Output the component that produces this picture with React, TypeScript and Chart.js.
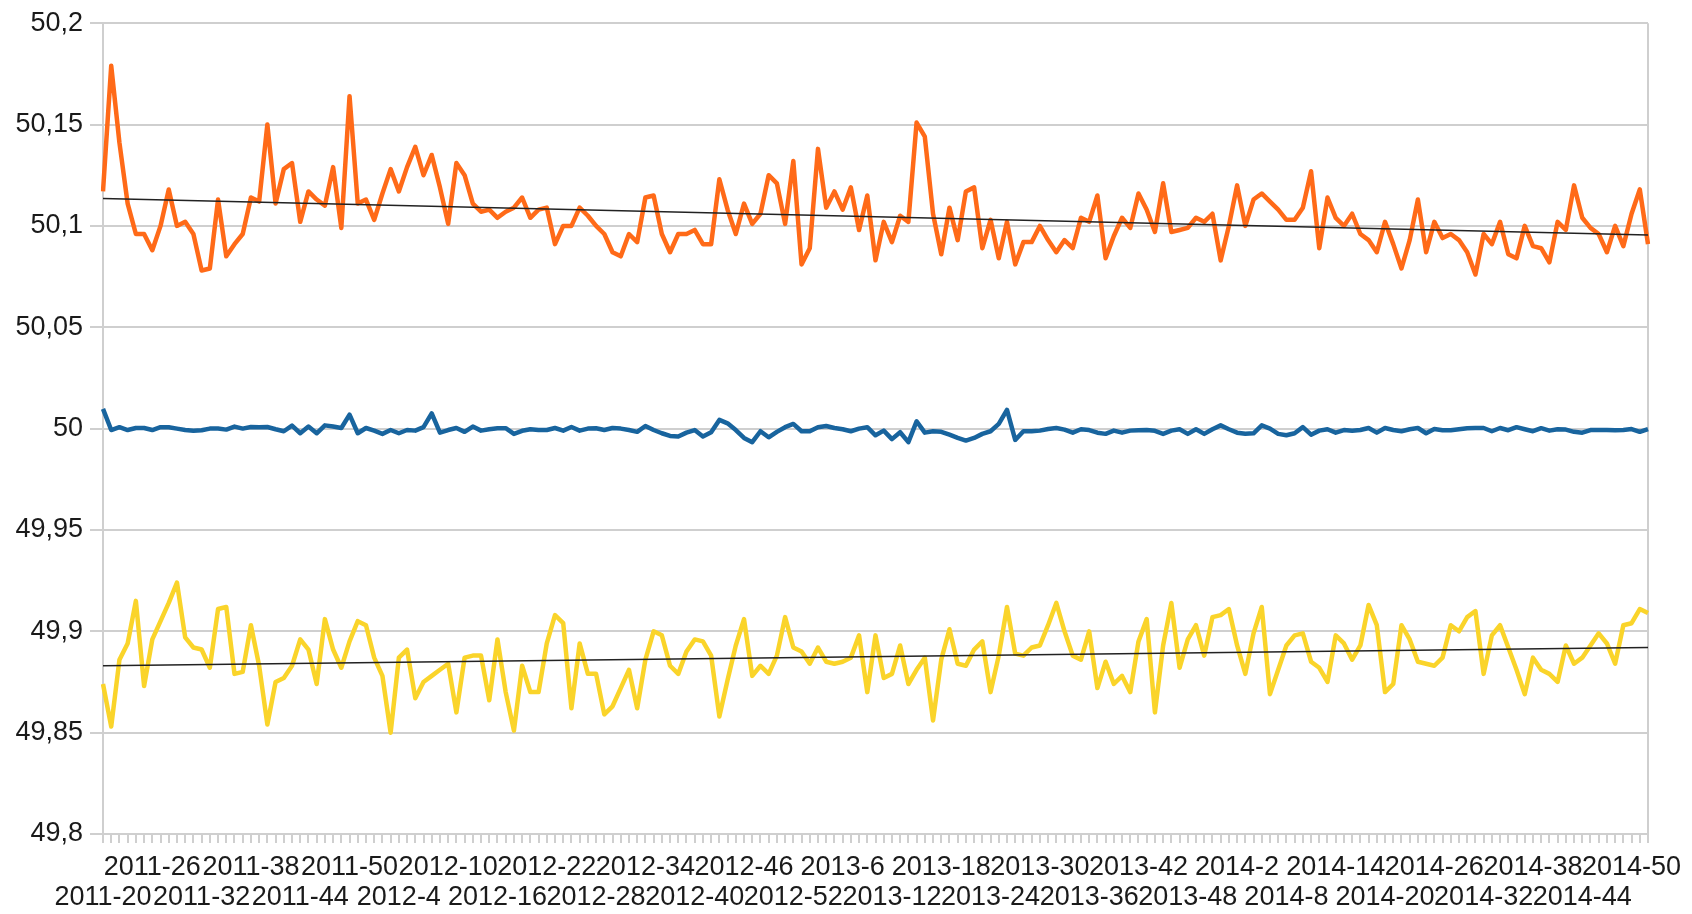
import React, { useEffect, useRef } from 'react';
import { Chart, registerables } from 'chart.js';

Chart.register(...registerables);

// Categories: ISO weeks from 2011-20 to 2014-52
const firstYear = 2011;
const firstWeek = 20;
const lastYear = 2014;
const weeksPerYear = 52;
const categories: string[] = [];
for (let y = firstYear; y <= lastYear; y++) {
  for (let w = y === firstYear ? firstWeek : 1; w <= weeksPerYear; w++) {
    categories.push(`${y}-${w}`);
  }
}

const orangeSeries = [
  50.117, 50.179, 50.141, 50.111, 50.096, 50.096, 50.088, 50.100, 50.118, 50.100,
  50.102, 50.096, 50.078, 50.079, 50.113, 50.085, 50.091, 50.096, 50.114, 50.112,
  50.150, 50.111, 50.128, 50.131, 50.102, 50.117, 50.113, 50.110, 50.129, 50.099,
  50.164, 50.111, 50.113, 50.103, 50.116, 50.128, 50.117, 50.129, 50.139, 50.125,
  50.135, 50.119, 50.101, 50.131, 50.125, 50.111, 50.107, 50.108, 50.104, 50.107,
  50.109, 50.114, 50.104, 50.108, 50.109, 50.091, 50.100, 50.100, 50.109, 50.105,
  50.100, 50.096, 50.087, 50.085, 50.096, 50.092, 50.114, 50.115, 50.096, 50.087,
  50.096, 50.096, 50.098, 50.091, 50.091, 50.123, 50.108, 50.096, 50.111, 50.101,
  50.106, 50.125, 50.121, 50.101, 50.132, 50.081, 50.089, 50.138, 50.109, 50.117,
  50.108, 50.119, 50.098, 50.115, 50.083, 50.102, 50.092, 50.105, 50.102, 50.151,
  50.144, 50.106, 50.086, 50.109, 50.093, 50.117, 50.119, 50.089, 50.103, 50.084,
  50.102, 50.081, 50.092, 50.092, 50.100, 50.093, 50.087, 50.093, 50.089, 50.104,
  50.102, 50.115, 50.084, 50.095, 50.104, 50.099, 50.116, 50.108, 50.097, 50.121,
  50.097, 50.098, 50.099, 50.104, 50.102, 50.106, 50.083, 50.100, 50.120, 50.100,
  50.113, 50.116, 50.112, 50.108, 50.103, 50.103, 50.109, 50.127, 50.089, 50.114,
  50.104, 50.100, 50.106, 50.096, 50.093, 50.087, 50.102, 50.091, 50.079, 50.093,
  50.113, 50.087, 50.102, 50.094, 50.096, 50.093, 50.087, 50.076, 50.096, 50.091,
  50.102, 50.086, 50.084, 50.100, 50.090, 50.089, 50.082, 50.102, 50.098, 50.120,
  50.104, 50.099, 50.096, 50.087, 50.100, 50.090, 50.106, 50.118, 50.091,
];

const blueSeries = [
  50.0097, 49.9993, 50.0007, 49.9993, 50.0003, 50.0003, 49.9993, 50.0007, 50.0007, 50.0000,
  49.9993, 49.9989, 49.9992, 50.0000, 50.0000, 49.9995, 50.0010, 50.0000, 50.0008, 50.0007,
  50.0008, 49.9997, 49.9987, 50.0015, 49.9977, 50.0010, 49.9977, 50.0016, 50.0010, 50.0003,
  50.0069, 49.9977, 50.0003, 49.9990, 49.9974, 49.9993, 49.9977, 49.9993, 49.9990, 50.0007,
  50.0075, 49.9980, 49.9993, 50.0003, 49.9984, 50.0010, 49.9990, 49.9997, 50.0002, 50.0002,
  49.9974, 49.9989, 49.9997, 49.9993, 49.9993, 50.0003, 49.9990, 50.0008, 49.9990, 50.0000,
  50.0002, 49.9993, 50.0003, 50.0000, 49.9993, 49.9984, 50.0013, 49.9993, 49.9977, 49.9964,
  49.9961, 49.9980, 49.9993, 49.9961, 49.9982, 50.0043, 50.0026, 49.9993, 49.9954, 49.9933,
  49.9987, 49.9957, 49.9984, 50.0007, 50.0023, 49.9987, 49.9987, 50.0007, 50.0013, 50.0003,
  49.9997, 49.9987, 50.0000, 50.0007, 49.9967, 49.9990, 49.9948, 49.9982, 49.9933, 50.0036,
  49.9980, 49.9987, 49.9984, 49.9970, 49.9954, 49.9941, 49.9954, 49.9974, 49.9987, 50.0023,
  50.0092, 49.9944, 49.9987, 49.9987, 49.9990, 49.9998, 50.0003, 49.9995, 49.9980, 49.9997,
  49.9993, 49.9980, 49.9974, 49.9990, 49.9980, 49.9990, 49.9992, 49.9993, 49.9989, 49.9974,
  49.9990, 49.9997, 49.9974, 49.9997, 49.9974, 49.9997, 50.0016, 49.9997, 49.9980, 49.9975,
  49.9977, 50.0016, 50.0000, 49.9974, 49.9967, 49.9977, 50.0007, 49.9970, 49.9990, 49.9997,
  49.9980, 49.9993, 49.9989, 49.9993, 50.0003, 49.9980, 50.0003, 49.9993, 49.9987, 49.9997,
  50.0003, 49.9977, 49.9998, 49.9992, 49.9992, 49.9997, 50.0002, 50.0003, 50.0003, 49.9987,
  50.0003, 49.9992, 50.0007, 49.9997, 49.9987, 50.0002, 49.9990, 49.9997, 49.9995, 49.9984,
  49.9980, 49.9993, 49.9993, 49.9993, 49.9992, 49.9993, 49.9998, 49.9984, 49.9998,
];

const yellowSeries = [
  49.874, 49.853, 49.886, 49.894, 49.915, 49.873, 49.896, 49.905, 49.914, 49.924,
  49.897, 49.892, 49.891, 49.882, 49.911, 49.912, 49.879, 49.880, 49.903, 49.883,
  49.854, 49.875, 49.877, 49.883, 49.896, 49.891, 49.874, 49.906, 49.891, 49.882,
  49.895, 49.905, 49.903, 49.887, 49.878, 49.850, 49.887, 49.891, 49.867, 49.875,
  49.878, 49.881, 49.884, 49.860, 49.887, 49.888, 49.888, 49.866, 49.896, 49.870,
  49.851, 49.883, 49.870, 49.870, 49.894, 49.908, 49.904, 49.862, 49.894, 49.879,
  49.879, 49.859, 49.863, 49.872, 49.881, 49.862, 49.886, 49.900, 49.898, 49.883,
  49.879, 49.890, 49.896, 49.895, 49.888, 49.858, 49.876, 49.893, 49.906, 49.878,
  49.883, 49.879, 49.888, 49.907, 49.892, 49.890, 49.884, 49.892, 49.885, 49.884,
  49.885, 49.887, 49.898, 49.870, 49.898, 49.877, 49.879, 49.893, 49.874, 49.881,
  49.887, 49.856, 49.886, 49.901, 49.884, 49.883, 49.891, 49.895, 49.870, 49.888,
  49.912, 49.889, 49.888, 49.892, 49.893, 49.903, 49.914, 49.900, 49.888, 49.886,
  49.900, 49.872, 49.885, 49.874, 49.878, 49.870, 49.895, 49.906, 49.860, 49.893,
  49.914, 49.882, 49.896, 49.903, 49.888, 49.907, 49.908, 49.911, 49.893, 49.879,
  49.899, 49.912, 49.869, 49.881, 49.893, 49.898, 49.899, 49.885, 49.882, 49.875,
  49.898, 49.894, 49.886, 49.893, 49.913, 49.903, 49.870, 49.874, 49.903, 49.896,
  49.885, 49.884, 49.883, 49.887, 49.903, 49.900, 49.907, 49.910, 49.879, 49.898,
  49.903, 49.892, 49.881, 49.869, 49.887, 49.881, 49.879, 49.875, 49.893, 49.884,
  49.887, 49.893, 49.899, 49.894, 49.884, 49.903, 49.904, 49.911, 49.909,
];

// Linear trend lines (start and end values)
const orangeTrend = [50.1135, 50.0955];
const yellowTrend = [49.883, 49.892];

const yTickValues = [49.8, 49.85, 49.9, 49.95, 50, 50.05, 50.1, 50.15, 50.2];

const FONT = "'Liberation Sans', Arial, Helvetica, sans-serif";

export default function App() {
  const canvasRef = useRef<HTMLCanvasElement | null>(null);

  useEffect(() => {
    document.body.style.margin = '0';
    document.body.style.overflow = 'hidden';
    const canvas = canvasRef.current;
    if (!canvas) return;
    const last = categories.length - 1;
    const trendPoints = (t: number[]) => [
      { x: categories[0], y: t[0] },
      { x: categories[last], y: t[1] },
    ];
    const chart = new Chart(canvas, {
      type: 'line',
      data: {
        labels: categories,
        datasets: [
          {
            data: orangeSeries,
            borderColor: 'rgb(255,106,24)',
            borderWidth: 4.5,
            pointRadius: 0,
            tension: 0,
            borderJoinStyle: 'round',
            order: 2,
          },
          {
            data: blueSeries,
            borderColor: 'rgb(24,100,158)',
            borderWidth: 4.5,
            pointRadius: 0,
            tension: 0,
            borderJoinStyle: 'round',
            order: 2,
          },
          {
            data: yellowSeries,
            borderColor: 'rgb(250,212,42)',
            borderWidth: 4.5,
            pointRadius: 0,
            tension: 0,
            borderJoinStyle: 'round',
            order: 2,
          },
          {
            data: trendPoints(orangeTrend) as any,
            borderColor: '#222',
            borderWidth: 1.6,
            pointRadius: 0,
            tension: 0,
            order: 1,
          },
          {
            data: trendPoints(yellowTrend) as any,
            borderColor: '#222',
            borderWidth: 1.6,
            pointRadius: 0,
            tension: 0,
            order: 1,
          },
        ],
      },
      options: {
        animation: false,
        responsive: false,
        events: [],
        layout: { padding: { left: 0, right: 44, top: 20, bottom: 0 }, autoPadding: false },
        plugins: { legend: { display: false }, tooltip: { enabled: false } },
        scales: {
          x: {
            type: 'category',
            offset: false,
            border: { display: true, color: '#cfcfcf', width: 2 },
            grid: {
              drawOnChartArea: true,
              offset: false,
              color: (ctx: any) => (ctx.index === last ? '#cfcfcf' : 'rgba(0,0,0,0)'),
              lineWidth: 2,
              tickColor: '#cfcfcf',
              tickLength: 9,
            },
            ticks: {
              autoSkip: false,
              maxRotation: 0,
              minRotation: 0,
              padding: 9,
              color: '#1a1a1a',
              font: { family: FONT, size: 27, lineHeight: 1.13 },
              callback: (_v: any, index: number) => {
                const label = categories[index];
                if (index % 12 === 0) return ['', label];
                if (index % 12 === 6) return [label];
                return '';
              },
            },
            afterFit: (scale: any) => {
              scale.height = 80;
            },
          },
          y: {
            min: 49.8,
            max: 50.2,
            border: { display: true, color: '#cfcfcf', width: 2 },
            grid: { color: '#cfcfcf', lineWidth: 2, tickLength: 13 },
            afterBuildTicks: (scale: any) => {
              scale.ticks = yTickValues.map((v) => ({ value: v }));
            },
            ticks: {
              padding: 7,
              color: '#1a1a1a',
              font: { family: FONT, size: 27 },
              callback: (v: any) => String(Number(Number(v).toFixed(2))).replace('.', ','),
            },
            afterFit: (scale: any) => {
              scale.width = 103;
            },
          },
        },
      } as any,
    });
    return () => chart.destroy();
  }, []);

  return <canvas ref={canvasRef} width={1692} height={914} style={{ display: 'block' }} />;
}
